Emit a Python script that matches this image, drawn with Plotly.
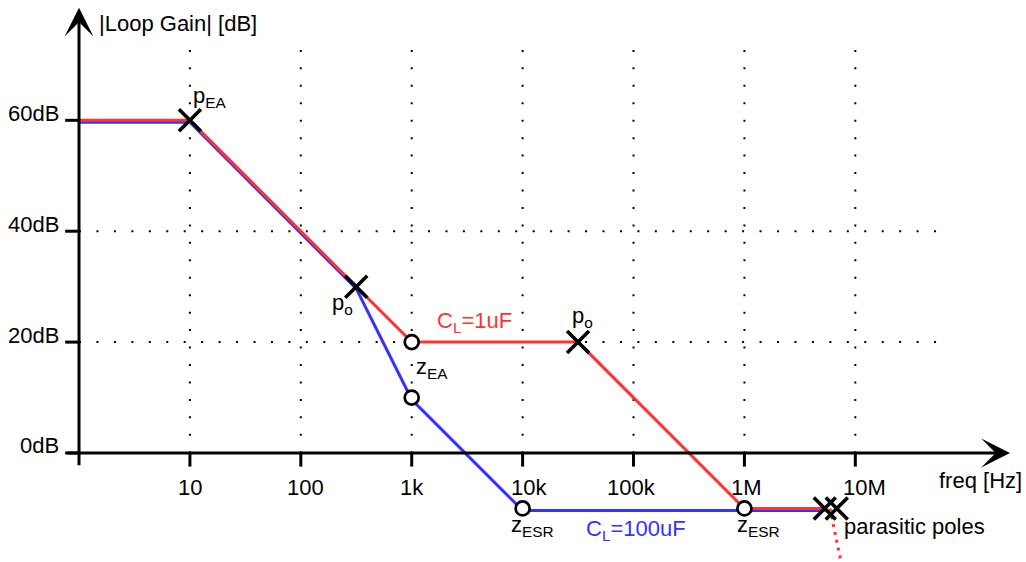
import numpy as np
import plotly.graph_objects as go

# ---------------- data ----------------
# asymptotic loop-gain sketches (frequency in Hz, gain in dB)
red_freq = [1, 10, 1000, 31600, 1e6, 5.3e6]        # C_L = 1uF
red_db = [60, 60, 20, 20, -10, -10]
blue_freq = [1, 10, 316, 1000, 1e4, 5.3e6]          # C_L = 100uF
blue_db = [60, 60, 30, 10, -10, -10]

pole_freq = [10, 316, 31600]
pole_db = [60, 30, 20]
pole_labels = ["p<sub>EA</sub>", "p<sub>o</sub>", "p<sub>o</sub>"]

zero_freq = [1000, 1000, 1e4, 1e6]
zero_db = [20, 10, -10, -10]
zero_labels = ["z<sub>EA</sub>", "", "z<sub>ESR</sub>", "z<sub>ESR</sub>"]

parasitic_freq = [5.3e6, 6.8e6]
parasitic_db = [-10, -10]
tail_freq = [5.9e6, 7.5e6]
tail_db = [-10, -20]

x_tick_vals = [10, 100, 1e3, 1e4, 1e5, 1e6, 1e7]
x_tick_text = ["10", "100", "1k", "10k", "100k", "1M", "10M"]
y_tick_vals = [0, 20, 40, 60]
y_tick_text = ["0dB", "20dB", "40dB", "60dB"]
grid_db = [20, 40]

RED = "#ff3333"
BLUE = "#3333ff"
FONT = "Liberation Sans, Arial, sans-serif"
FS = 22

# axis ranges chosen so 1 decade == 20 dB visually
X_RANGE = [-0.7124, 8.539]
Y_RANGE = [-19.66, 81.7]
BLUE_OFFSET = -0.36   # small visual separation of overlapping curves

fig = go.Figure()

# dotted grid
for f in x_tick_vals:
    fig.add_trace(go.Scatter(x=[f, f], y=[72.7, 0], mode="lines",
                             line=dict(color="black", width=2, dash="2px,15.45px"),
                             hoverinfo="skip", showlegend=False))
for g in grid_db:
    fig.add_trace(go.Scatter(x=[1, 10 ** 7.737], y=[g, g], mode="lines",
                             line=dict(color="black", width=2, dash="2px,15.45px"),
                             hoverinfo="skip", showlegend=False))

# ticks
tx, ty = [], []
for f in x_tick_vals:
    tx += [f, f, None]
    ty += [0, -2.45, None]
fig.add_trace(go.Scatter(x=tx, y=ty, mode="lines", line=dict(color="black", width=3),
                         hoverinfo="skip", showlegend=False))
tx, ty = [], []
for v in y_tick_vals:
    tx += [10 ** -0.125, 1, None]
    ty += [v, v, None]
fig.add_trace(go.Scatter(x=tx, y=ty, mode="lines", line=dict(color="black", width=3),
                         hoverinfo="skip", showlegend=False))

# curves
fig.add_trace(go.Scatter(x=blue_freq, y=[v + BLUE_OFFSET for v in blue_db], mode="lines",
                         line=dict(color=BLUE, width=3), hoverinfo="skip", showlegend=False))
fig.add_trace(go.Scatter(x=red_freq, y=red_db, mode="lines",
                         line=dict(color=RED, width=3), hoverinfo="skip", showlegend=False))
fig.add_trace(go.Scatter(x=tail_freq, y=tail_db, mode="lines",
                         line=dict(color=RED, width=3, dash="3px,5px"),
                         hoverinfo="skip", showlegend=False))

# markers
fig.add_trace(go.Scatter(x=zero_freq, y=zero_db, mode="markers",
                         marker=dict(symbol="circle", size=14, color="white",
                                     line=dict(color="black", width=2.7)),
                         hoverinfo="skip", showlegend=False))
fig.add_trace(go.Scatter(x=pole_freq + parasitic_freq, y=pole_db + parasitic_db, mode="markers",
                         marker=dict(symbol="x-thin-open", size=22, color="black",
                                     line=dict(color="black", width=3.6)),
                         hoverinfo="skip", showlegend=False))

# axes with arrows
fig.add_annotation(x=0, y=80.3, ax=0, ay=-2.5, xref="x", yref="y", axref="x", ayref="y",
                   text="", showarrow=True, arrowhead=3, arrowwidth=3, arrowsize=1.6,
                   arrowcolor="black", standoff=0)
fig.add_annotation(x=8.395, y=0, ax=-0.117, ay=0, xref="x", yref="y", axref="x", ayref="y",
                   text="", showarrow=True, arrowhead=3, arrowwidth=3, arrowsize=1.6,
                   arrowcolor="black", standoff=0)

def txt(x, y, s, color="black", xanchor="center", yanchor="middle", xshift=0, yshift=0):
    fig.add_annotation(x=x, y=y, xref="x", yref="y", text=s, showarrow=False,
                       font=dict(family=FONT, size=FS, color=color),
                       xanchor=xanchor, yanchor=yanchor, xshift=xshift, yshift=yshift)

# tick labels
x_label_shift = [0, 5, 0, 6, -2, 2, 9]
for f, s, sh in zip(x_tick_vals, x_tick_text, x_label_shift):
    txt(np.log10(f), 0, s, yshift=-35, xshift=sh)
for v, s in zip(y_tick_vals, y_tick_text):
    txt(-0.162, v, s, xanchor="right", yshift=7)

txt(0.162, 77.5, "|Loop Gain| [dB]", xanchor="left")
txt(8.133, -5.05, "freq [Hz]")

# pole / zero labels
pole_shift = [(20, 23), (-14, -17), (4, 25)]
for f, v, s, (dx, dy) in zip(pole_freq, pole_db, pole_labels, pole_shift):
    txt(np.log10(f), v, s, xshift=dx, yshift=dy)
zero_shift = [(20, -26), (0, 0), (10, -18), (14, -18)]
for f, v, s, (dx, dy) in zip(zero_freq, zero_db, zero_labels, zero_shift):
    if s:
        txt(np.log10(f), v, s, xshift=dx, yshift=dy)
txt(np.log10(parasitic_freq[0]), -10, "parasitic poles", xanchor="left", xshift=17, yshift=-18)

txt(3.562, 23.6, "C<sub>L</sub>=1uF", color=RED)
txt(5.023, -13.9, "C<sub>L</sub>=100uF", color=BLUE)

fig.update_layout(
    width=1026, height=562,
    margin=dict(l=0, r=0, t=0, b=0),
    paper_bgcolor="white", plot_bgcolor="white",
    xaxis=dict(type="log", range=X_RANGE, visible=False, fixedrange=True),
    yaxis=dict(range=Y_RANGE, visible=False, fixedrange=True),
    showlegend=False,
)

fig.write_html("out.html")
